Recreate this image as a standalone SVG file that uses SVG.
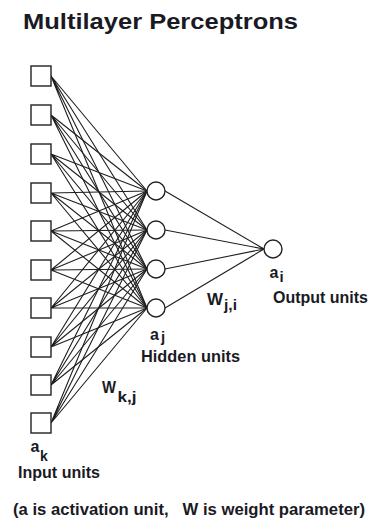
<svg xmlns="http://www.w3.org/2000/svg" width="370" height="523" viewBox="0 0 370 523">
  <style>
    .unit { fill: #ffffff; stroke: #222222; stroke-width: 1.4; }
    .edge { stroke: #1e1e1e; stroke-width: 1.1; fill: none; }
    .lbl { font-family: "Liberation Sans", "DejaVu Sans", sans-serif; font-weight: bold; fill: #1a1a24; }
    .big { font-size: 16px; }
    .sub { font-size: 15px; }
  </style>
  <rect width="370" height="523" fill="#ffffff"/>

  <text class="lbl" x="23" y="28.5" font-size="22.5" textLength="275" lengthAdjust="spacingAndGlyphs">Multilayer Perceptrons</text>

  <!-- weights: every input unit to every hidden unit, then hidden to output -->
  <g id="connectors">
    <g id="w-kj">
      <path class="edge" d="M51 76 L147 191 M51 76 L147 230 M51 76 L147 269 M51 76 L147 308"/>
      <path class="edge" d="M51 115 L147 191 M51 115 L147 230 M51 115 L147 269 M51 115 L147 308"/>
      <path class="edge" d="M51 154 L147 191 M51 154 L147 230 M51 154 L147 269 M51 154 L147 308"/>
      <path class="edge" d="M51 193 L147 191 M51 193 L147 230 M51 193 L147 269 M51 193 L147 308"/>
      <path class="edge" d="M51 231 L147 191 M51 231 L147 230 M51 231 L147 269 M51 231 L147 308"/>
      <path class="edge" d="M51 270 L147 191 M51 270 L147 230 M51 270 L147 269 M51 270 L147 308"/>
      <path class="edge" d="M51 308 L147 191 M51 308 L147 230 M51 308 L147 269 M51 308 L147 308"/>
      <path class="edge" d="M51 347 L147 191 M51 347 L147 230 M51 347 L147 269 M51 347 L147 308"/>
      <path class="edge" d="M51 385 L147 191 M51 385 L147 230 M51 385 L147 269 M51 385 L147 308"/>
      <path class="edge" d="M51 423 L147 191 M51 423 L147 230 M51 423 L147 269 M51 423 L147 308"/>
    </g>
    <g id="w-ji">
      <path class="edge" d="M165 191 L264 249 M165 230 L264 249 M165 269 L264 249 M165 308 L264 249"/>
    </g>
  </g>

  <g id="input-units">
    <rect id="in1" class="unit" x="31" y="66" width="20" height="20"/>
    <rect id="in2" class="unit" x="31" y="105" width="20" height="20"/>
    <rect id="in3" class="unit" x="31" y="144" width="20" height="20"/>
    <rect id="in4" class="unit" x="31" y="183" width="20" height="20"/>
    <rect id="in5" class="unit" x="31" y="221" width="20" height="20"/>
    <rect id="in6" class="unit" x="31" y="260" width="20" height="20"/>
    <rect id="in7" class="unit" x="31" y="298" width="20" height="20"/>
    <rect id="in8" class="unit" x="31" y="337" width="20" height="20"/>
    <rect id="in9" class="unit" x="31" y="375" width="20" height="20"/>
    <rect id="in10" class="unit" x="31" y="413" width="20" height="20"/>
  </g>

  <g id="hidden-units">
    <circle id="h1" class="unit" cx="156" cy="191" r="9"/>
    <circle id="h2" class="unit" cx="156" cy="230" r="9"/>
    <circle id="h3" class="unit" cx="156" cy="269" r="9"/>
    <circle id="h4" class="unit" cx="156" cy="308" r="9"/>
  </g>

  <g id="output-unit">
    <circle id="o1" class="unit" cx="273" cy="249" r="9"/>
  </g>

  <g id="labels">
    <!-- input layer -->
    <text class="lbl big" x="30.5" y="452">a</text>
    <text class="lbl" x="40" y="460.5" font-size="14">k</text>
    <text class="lbl big" x="18" y="478" textLength="82" lengthAdjust="spacingAndGlyphs">Input units</text>

    <!-- input-to-hidden weight -->
    <text class="lbl big" x="102" y="393" textLength="14" lengthAdjust="spacingAndGlyphs">W</text>
    <text class="lbl sub" x="117.5" y="402" textLength="19" lengthAdjust="spacingAndGlyphs">k,j</text>

    <!-- hidden layer -->
    <text class="lbl big" x="150" y="340">a</text>
    <text class="lbl sub" x="161" y="342">j</text>
    <text class="lbl big" x="141" y="361.5" textLength="99" lengthAdjust="spacingAndGlyphs">Hidden units</text>

    <!-- hidden-to-output weight -->
    <text class="lbl big" x="207" y="305" textLength="16" lengthAdjust="spacingAndGlyphs">W</text>
    <text class="lbl sub" x="224" y="310" textLength="13" lengthAdjust="spacingAndGlyphs">j,i</text>

    <!-- output layer -->
    <text class="lbl big" x="269.5" y="278">a</text>
    <text class="lbl sub" x="279.5" y="282">i</text>
    <text class="lbl big" x="273" y="303" textLength="95" lengthAdjust="spacingAndGlyphs">Output units</text>

    <text class="lbl" x="13" y="515" font-size="16" textLength="352" lengthAdjust="spacingAndGlyphs" xml:space="preserve">(a is activation unit,   W is weight parameter)</text>
  </g>
</svg>
